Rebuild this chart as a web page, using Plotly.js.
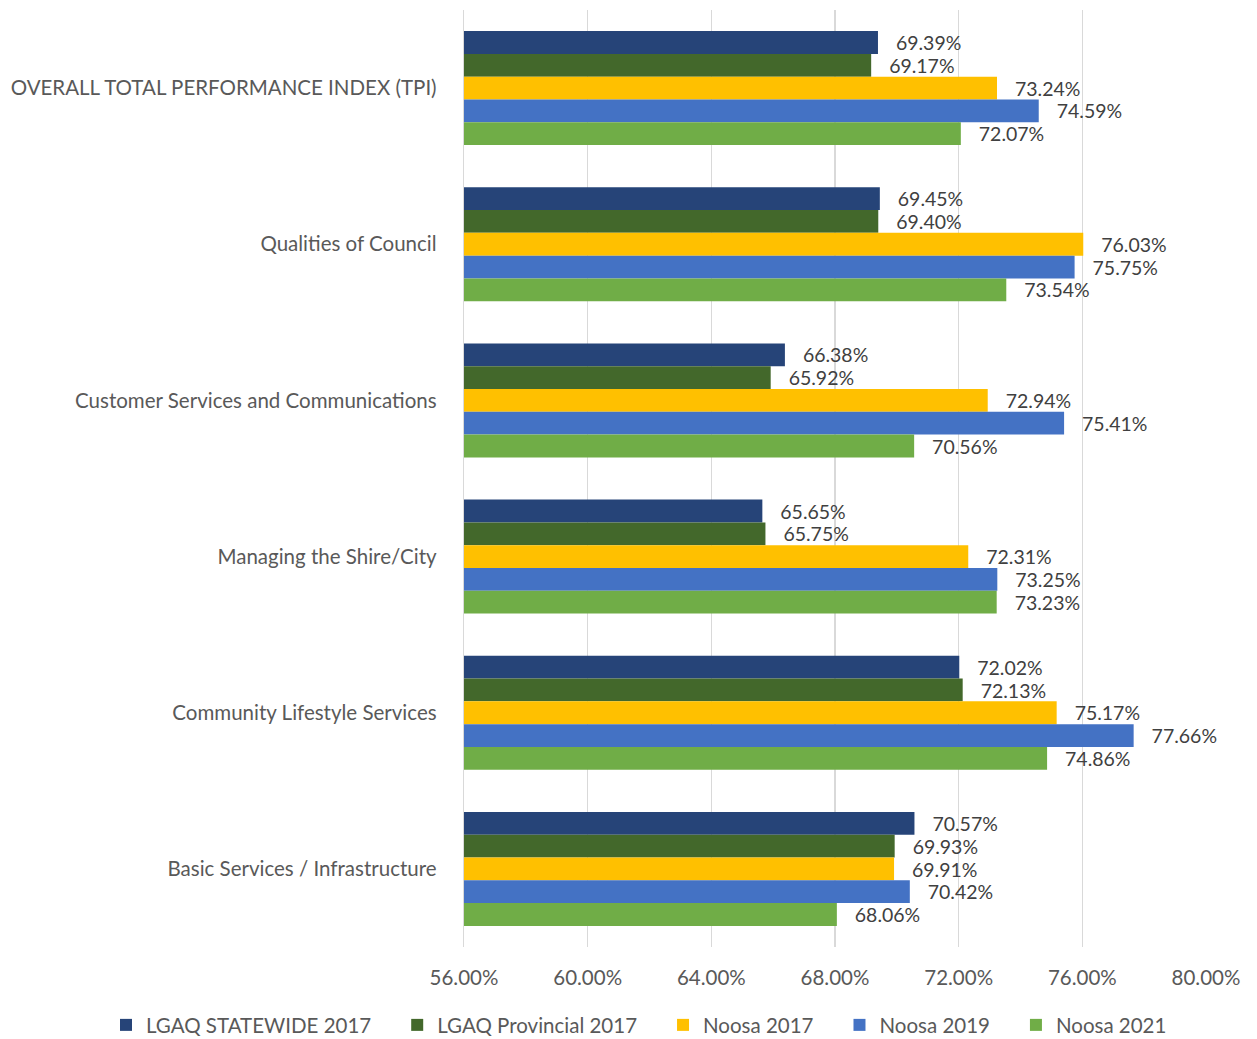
<!DOCTYPE html>
<html><head><meta charset="utf-8">
<script src="https://cdn.plot.ly/plotly-3.0.1.min.js"></script>
<style>html,body{margin:0;padding:0;background:#fff;}#chart{width:1257px;height:1039px;}</style>
</head><body><div id="chart"></div>
<script>
const categories = [
  "OVERALL TOTAL PERFORMANCE INDEX (TPI)",
  "Qualities of Council",
  "Customer Services and Communications",
  "Managing the Shire/City",
  "Community Lifestyle Services",
  "Basic Services / Infrastructure"
];
const seriesNames = ["LGAQ STATEWIDE 2017", "LGAQ Provincial 2017", "Noosa 2017", "Noosa 2019", "Noosa 2021"];
const statewide2017  = [69.39, 69.45, 66.38, 65.65, 72.02, 70.57];
const provincial2017 = [69.17, 69.40, 65.92, 65.75, 72.13, 69.93];
const noosa2017      = [73.24, 76.03, 72.94, 72.31, 75.17, 69.91];
const noosa2019      = [74.59, 75.75, 75.41, 73.25, 77.66, 70.42];
const noosa2021      = [72.07, 73.54, 70.56, 73.23, 74.86, 68.06];
const colors = ["#264478", "#43682B", "#FFC000", "#4472C4", "#70AD47"];
const allSeries = [statewide2017, provincial2017, noosa2017, noosa2019, noosa2021];

const font = "Lato, 'Open Sans', sans-serif";
const legendPad = "\u00a0\u00a0\u00a0\u00a0";
const traces = allSeries.map((vals, i) => ({
  type: "bar",
  orientation: "h",
  name: seriesNames[i] + legendPad,
  y: categories,
  x: vals,
  marker: {color: colors[i]},
  texttemplate: "\u00a0\u00a0\u00a0%{x:.2f}%",
  textposition: "outside",
  cliponaxis: false,
  textfont: {family: font, size: 20.5, color: "#404040"},
  hoverinfo: "x+name"
}));

const layout = {
  width: 1257, height: 1039,
  margin: {l: 464, r: 51, t: 10, b: 92, autoexpand: false},
  barmode: "group",
  bargap: 0.27,
  bargroupgap: 0,
  paper_bgcolor: "#fff", plot_bgcolor: "#fff",
  font: {family: font, color: "#595959", size: 20.5},
  xaxis: {
    range: [56, 80], dtick: 4, tick0: 56,
    tickformat: ".2f", ticksuffix: "%",
    showgrid: true, gridcolor: "#D9D9D9", gridwidth: 1.3,
    zeroline: false, showline: false,
    ticks: "", ticklabelstandoff: 16,
    tickfont: {family: font, size: 20.5, color: "#595959"}
  },
  yaxis: {
    autorange: "reversed",
    showline: true, linecolor: "#D9D9D9", linewidth: 1.3,
    ticks: "", ticklabelstandoff: 22,
    tickfont: {family: font, size: 20.5, color: "#595959"}
  },
  showlegend: true,
  legend: {
    orientation: "h",
    x: -0.4825, xanchor: "left", y: -0.0833, yanchor: "middle",
    font: {family: font, size: 20.5, color: "#595959"},
    itemwidth: 30, tracegroupgap: 0
  }
};
Plotly.newPlot("chart", traces, layout, {displayModeBar: false, staticPlot: true});
</script></body></html>
